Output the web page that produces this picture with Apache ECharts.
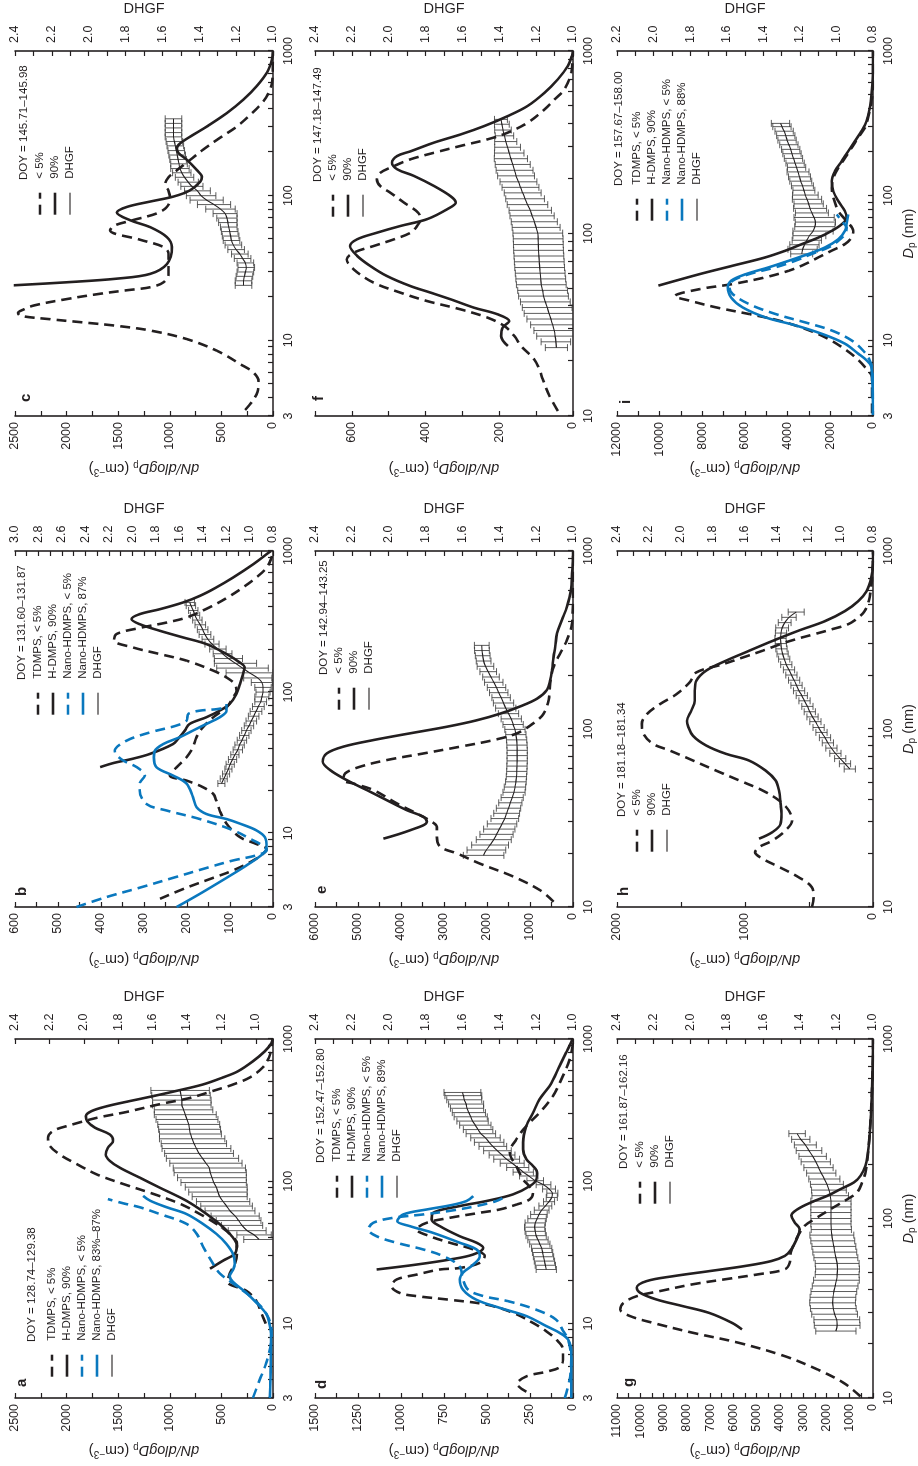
<!DOCTYPE html>
<html>
<head>
<meta charset="utf-8">
<title>Size distributions and DHGF</title>
<script src="https://cdn.jsdelivr.net/npm/echarts@6/dist/echarts.min.js"></script>
<style>
html, body { margin:0; padding:0; background:#fff; width:918px; height:1466px; overflow:hidden; }
#rot { position:absolute; left:0; top:0; width:1466px; height:918px; transform-origin:0 0; transform:translate(0px,1466px) rotate(-90deg); }
#chart { width:1466px; height:918px; }
</style>
</head>
<body>
<div id="rot"><div id="chart"></div></div>
<script>
// ---------------- tick labels ----------------
const dpTicks = [3,4,5,6,7,8,9,10,20,30,40,50,60,70,80,90,100,200,300,400,500,600,700,800,900,1000];
const dpLabels = [3,10,100,1000];
const dnLabels_a = [0,500,1000,1500,2000,2500];
const dnLabels_b = [0,100,200,300,400,500,600];
const dnLabels_c = [0,500,1000,1500,2000,2500];
const dnLabels_d = [0,250,500,750,1000,1250,1500];
const dnLabels_e = [0,1000,2000,3000,4000,5000,6000];
const dnLabels_f = [0,200,400,600];
const dnLabels_g = [0,1000,2000,3000,4000,5000,6000,7000,8000,9000,10000,11000];
const dnLabels_h = [0,1000,2000];
const dnLabels_i = [0,2000,4000,6000,8000,10000,12000];
const gfLabels_10_24 = [1.0,1.2,1.4,1.6,1.8,2.0,2.2,2.4];
const gfLabels_08_30 = [0.8,1.0,1.2,1.4,1.6,1.8,2.0,2.2,2.4,2.6,2.8,3.0];
const gfLabels_08_24 = [0.8,1.0,1.2,1.4,1.6,1.8,2.0,2.2,2.4];
const gfLabels_08_22 = [0.8,1.0,1.2,1.4,1.6,1.8,2.0,2.2];

// ---------------- panel a ----------------
const a_tdmps = [[10,70],[11.7,110],[14.6,165],[17,260],[19.7,440],[22.5,420],[26.3,370],[30.9,350],[36.4,350],[42.8,420],[50.3,550],[59,710],[69.5,900],[81.6,1160],[95.7,1450],[112,1710],[132,1900],[154,2065],[181,2170],[202,2180],[226,2130],[250,1950],[279,1710],[307,1420],[348,1100],[386,800],[432,580],[478,390],[537,225],[630,100],[738,40],[864,15],[1000,5]];
const a_hdmps = [[24.3,610],[27.8,480],[30.9,370],[35.3,350],[40.4,390],[47.5,480],[59,645],[73,840],[90.4,1100],[106,1290],[124,1480],[139,1580],[154,1620],[172,1600],[192,1550],[213,1580],[238,1725],[264,1800],[287,1813],[311,1760],[337,1610],[366,1390],[397,1160],[432,935],[479,680],[537,485],[593,340],[697,195],[819,80],[934,15],[1000,3]];
const a_nanoLo = [[3,195],[4,130],[5.3,65],[6.9,25],[8.5,15],[10,25],[11.7,65],[13.5,130],[16,240],[19.1,385],[22.5,515],[26.3,580],[34.4,675],[42.8,740],[50.3,840],[59,1100],[65.7,1290],[70,1450],[75,1600]];
const a_nanoHi = [[3,30],[4,25],[5.3,22],[6.9,20],[8.5,20],[10,35],[11.7,65],[14,160],[16.5,260],[19.7,390],[21.6,420],[23.9,387],[26.3,371],[30.9,387],[36.4,452],[42.8,550],[50.3,680],[59,840],[65.7,1030],[73,1190],[79,1258]];
const a_dhgf = [[39,0.98,0.09],[42,1.01,0.10],[45,1.05,0.11],[49,1.08,0.12],[53,1.10,0.13],[57,1.12,0.14],[62,1.15,0.145],[67,1.17,0.15],[72,1.19,0.155],[78,1.21,0.16],[84,1.22,0.17],[91,1.23,0.18],[98,1.245,0.19],[106,1.255,0.20],[115,1.265,0.21],[124,1.27,0.21],[134,1.29,0.21],[145,1.31,0.21],[157,1.33,0.20],[170,1.345,0.20],[184,1.36,0.19],[199,1.37,0.19],[215,1.38,0.18],[232,1.385,0.18],[251,1.39,0.18],[272,1.40,0.18],[294,1.41,0.18],[318,1.42,0.17],[344,1.43,0.17],[372,1.43,0.17],[402,1.435,0.17],[435,1.44,0.17]];

// ---------------- panel b ----------------
const b_tdmps = [[3.43,263],[4.11,201],[4.83,139],[5.45,93],[6.41,46],[7.16,23],[7.76,15],[8.42,40],[9.38,77],[11.7,108],[14.5,124],[17.1,132],[19,139],[21.2,163],[23.6,201],[25.6,240],[29.4,224],[34.5,201],[40.7,186],[47.9,178],[56.4,163],[66.3,139],[78,108],[91.8,93],[102,85],[114,89],[127,108],[142,139],[167,201],[186,263],[207,325],[233,370],[258,364],[285,310],[311,248],[338,201],[389,155],[464,108],[551,70],[648,39],[760,15],[890,4],[1000,0]];
const b_hdmps = [[29.4,402],[31.5,370],[33.5,330],[36.5,286],[42.9,232],[47,220],[53.4,205],[59.5,194],[66.3,155],[73.9,124],[82.4,101],[96.9,85],[114,77],[134,70],[150,66],[162,77],[186,108],[219,155],[244,209],[272,263],[303,310],[329,329],[357,310],[387,263],[432,209],[481,170],[551,132],[648,93],[806,46],[949,15],[1000,5]];
const b_nanoLo = [[3,457],[3.53,387],[4.11,310],[4.83,232],[5.67,155],[6.41,93],[6.97,39],[7.56,15],[8.2,25],[8.9,46],[10.5,93],[12.6,170],[14.5,248],[16.1,294],[20,310],[22.5,310],[25.6,298],[29.4,317],[32.7,348],[36.4,366],[38.3,368],[45.2,341],[51.8,286],[58,224],[62.8,201],[70,197],[73.9,170],[75.6,132],[78,108]];
const b_nanoHi = [[3,224],[3.72,170],[4.83,108],[5.9,62],[7.16,23],[7.94,15],[9.38,19],[10.5,39],[11.7,77],[12.6,108],[13.7,155],[15.3,178],[18,186],[22.5,201],[25.6,232],[29.4,271],[34.5,277],[38.3,275],[42.9,255],[47.9,217],[53.4,186],[59.5,155],[66.3,124],[73.9,108],[82.4,108]];
const b_dhgf = [[22.5,1.24,0.03],[24.3,1.22,0.03],[26.3,1.20,0.03],[28.5,1.18,0.03],[30.8,1.165,0.035],[33.3,1.145,0.035],[36,1.125,0.035],[39,1.10,0.04],[42.2,1.085,0.04],[45.6,1.065,0.04],[49.3,1.045,0.04],[53.4,1.027,0.04],[57.7,1.005,0.04],[62.4,0.985,0.045],[67.5,0.965,0.045],[73,0.945,0.05],[79,0.925,0.05],[85.4,0.905,0.05],[92.4,0.895,0.06],[100,0.885,0.06],[108,0.885,0.07],[117,0.895,0.09],[126,0.93,0.12],[137,1.0,0.20],[148,1.06,0.22],[160,1.12,0.18],[173,1.18,0.12],[187,1.23,0.08],[202,1.27,0.07],[219,1.32,0.06],[237,1.355,0.05],[256,1.38,0.05],[277,1.40,0.045],[300,1.42,0.045],[324,1.445,0.04],[350,1.465,0.04],[379,1.48,0.04],[410,1.50,0.04],[432,1.51,0.04]];

// ---------------- panel c ----------------
const c_lo = [[3.3,270],[3.8,200],[4.4,150],[5.2,140],[6,190],[6.85,317],[8.47,543],[10.2,834],[11.7,1190],[12.6,1513],[13.3,1837],[14,2160],[14.8,2451],[15.5,2470],[16.3,2420],[17.4,2320],[19.3,1997],[21,1674],[22.2,1416],[23.3,1190],[25.2,1061],[28.8,1012],[33.7,1012],[39.7,1012],[44.2,1061],[49.6,1287],[57.6,1578],[62,1540],[67.9,1352],[75.5,1125],[83.6,1028],[95.4,996],[108,1012],[120,1045],[134,1012],[150,931],[177,802],[209,673],[252,511],[301,349],[363,220],[437,107],[514,42],[603,10],[787,2],[1000,0]];
const c_hi = [[24,2520],[25.2,2000],[26.7,1513],[28.8,1190],[33.7,1028],[44.2,980],[51.7,1028],[60.6,1190],[67.6,1384],[76.5,1513],[83.6,1416],[91.1,1190],[98.6,964],[109,802],[125,705],[135,689],[150,737],[177,834],[197,915],[213,931],[230,899],[256,802],[301,640],[373,446],[463,285],[575,155],[712,58],[876,10],[1000,0]];
const c_dhgf = [[24,1.16,0.045],[25.8,1.16,0.045],[27.7,1.155,0.045],[29.7,1.15,0.045],[31.9,1.145,0.045],[34.3,1.15,0.045],[36.8,1.165,0.045],[39.5,1.18,0.045],[42.4,1.20,0.045],[45.6,1.215,0.045],[49,1.225,0.045],[52.6,1.23,0.045],[56.5,1.235,0.045],[60.7,1.24,0.045],[65.2,1.245,0.05],[70,1.25,0.055],[75.2,1.26,0.065],[80.8,1.285,0.08],[86.8,1.32,0.09],[93.2,1.36,0.09],[100,1.39,0.08],[108,1.41,0.07],[116,1.44,0.06],[124,1.46,0.055],[134,1.48,0.05],[144,1.495,0.05],[154,1.505,0.05],[166,1.51,0.045],[178,1.515,0.045],[191,1.52,0.045],[205,1.525,0.045],[221,1.53,0.045],[237,1.535,0.045],[255,1.54,0.045],[273,1.54,0.045],[294,1.54,0.045],[316,1.54,0.045],[340,1.54,0.045]];

// ---------------- panel d ----------------
const d_tdmps = [[3.32,271],[3.76,325],[4.26,271],[4.59,155],[4.94,77],[5.59,58],[6.57,58],[7.72,97],[8.83,155],[10.1,232],[11.9,348],[13.6,503],[14.7,716],[15.6,909],[16.4,1006],[18.3,1055],[20.4,1026],[22.1,909],[24,774],[24.6,658],[26.7,542],[29.8,513],[33.2,580],[37,716],[41.1,832],[45.9,909],[51.1,851],[55.4,716],[60.1,542],[63.4,426],[68.6,329],[74.6,252],[83.5,232],[92.6,255],[103,290],[128,330],[159,368],[197,330],[245,271],[304,194],[399,116],[552,58],[724,19],[898,3],[1000,0]];
const d_hdmps = [[24,1142],[26,909],[28.2,716],[30.6,580],[34.1,522],[37,560],[41.1,658],[48.4,774],[53.9,822],[60.1,813],[67,658],[72.7,503],[81,348],[92.6,251],[103,213],[115,209],[128,232],[143,271],[168,290],[188,290],[245,271],[304,232],[378,194],[470,135],[650,77],[807,39],[949,10],[1000,3]];
const d_nanoLo = [[3,48],[4.05,19],[5.59,10],[7.72,29],[9,60],[10.7,100],[12.6,220],[14.4,380],[15.6,520],[17.3,610],[20.4,640],[25.3,660],[29.8,755],[33.2,871],[37,1026],[41.1,1142],[45.9,1190],[51.1,1161],[55.4,1045],[58.5,871],[62,716],[67,561],[72.7,445],[77.5,397]];
const d_nanoHi = [[3,10],[6.2,10],[7.72,29],[8.6,77],[9.6,155],[11.3,271],[12.9,426],[14.7,561],[17.3,639],[20.4,658],[22.8,639],[26,580],[29.8,542],[33.2,561],[37,658],[43.4,813],[48.4,948],[52.5,1022],[58.5,987],[63.4,851],[67.7,716],[72.7,619],[78.7,580]];
const d_dhgf = [[24,1.145,0.055],[25.7,1.15,0.055],[27.5,1.155,0.055],[29.5,1.16,0.055],[31.6,1.165,0.055],[33.8,1.17,0.055],[36.2,1.18,0.055],[38.8,1.19,0.055],[41.5,1.20,0.055],[44.5,1.205,0.055],[47.6,1.208,0.055],[51,1.205,0.055],[54.6,1.195,0.05],[58.5,1.185,0.045],[62.7,1.17,0.04],[67.1,1.15,0.035],[71.9,1.13,0.03],[77,1.115,0.03],[82.5,1.112,0.03],[88.3,1.13,0.035],[94.6,1.16,0.04],[101,1.205,0.045],[109,1.24,0.05],[116,1.27,0.055],[125,1.30,0.06],[134,1.33,0.065],[143,1.36,0.07],[153,1.385,0.07],[164,1.41,0.075],[176,1.435,0.075],[188,1.455,0.08],[202,1.475,0.08],[216,1.50,0.08],[231,1.515,0.08],[248,1.53,0.085],[265,1.545,0.085],[284,1.555,0.09],[304,1.565,0.09],[326,1.575,0.09],[349,1.58,0.095],[374,1.59,0.095],[400,1.595,0.1],[421,1.60,0.1]];

// ---------------- panel e ----------------
const e_lo = [[10.7,450],[12.4,760],[14.8,1381],[17.5,2157],[20,2700],[21.8,3088],[24.8,3166],[28.2,3166],[30.1,3282],[33.5,3632],[38.2,4097],[45.4,4640],[49.4,5106],[51.6,5339],[56.3,5300],[61.4,4951],[66.9,4330],[72.9,3476],[79.6,2623],[86.7,1847],[94.6,1304],[108,916],[122,683],[146,566],[181,528],[224,450],[267,295],[317,140],[393,23],[606,0],[1000,0]];
const e_hi = [[24.2,4408],[27,3787],[30.1,3399],[32.1,3476],[35,3865],[39.8,4330],[45.4,4796],[51.6,5261],[58.8,5649],[65.5,5820],[72.9,5727],[79.6,5339],[86.7,4640],[94.6,3787],[103,2933],[112,2235],[122,1692],[134,1226],[148,838],[166,605],[189,528],[215,489],[255,450],[291,411],[345,372],[411,256],[488,140],[606,47],[752,23],[933,0],[1000,0]];
const e_dhgf = [[19.5,1.485,0.11],[20.9,1.47,0.105],[22.3,1.45,0.10],[23.9,1.43,0.095],[25.6,1.415,0.09],[27.4,1.40,0.085],[29.3,1.385,0.08],[31.4,1.37,0.075],[33.6,1.36,0.07],[35.9,1.35,0.066],[38.5,1.34,0.063],[41.2,1.33,0.06],[44.1,1.32,0.06],[47.2,1.315,0.058],[50.5,1.31,0.056],[54,1.307,0.055],[57.8,1.305,0.055],[61.9,1.304,0.055],[66.2,1.303,0.055],[70.9,1.303,0.055],[75.9,1.303,0.055],[81.2,1.304,0.055],[86.9,1.306,0.055],[93,1.31,0.055],[99.5,1.315,0.055],[106,1.325,0.055],[114,1.335,0.055],[122,1.35,0.055],[131,1.365,0.055],[140,1.377,0.055],[150,1.39,0.05],[160,1.403,0.05],[171,1.415,0.05],[183,1.43,0.05],[196,1.445,0.045],[210,1.46,0.045],[225,1.475,0.045],[241,1.485,0.04],[258,1.49,0.04],[276,1.494,0.04],[295,1.495,0.04]];

// ---------------- panel f ----------------
const f_lo = [[10.65,41],[12.9,64],[15.9,82],[18,91],[20.4,105],[24.2,141],[27.4,159],[31.1,186],[34.6,232],[38.4,305],[42.6,395],[47.4,468],[53.8,541],[63.6,595],[72.2,614],[78.5,595],[85.4,541],[92.9,486],[101,441],[110,423],[120,414],[130,420],[148,459],[167,495],[182,523],[198,532],[215,523],[234,486],[255,441],[277,377],[302,305],[328,232],[357,177],[405,123],[479,77],[543,50],[617,23],[761,5],[1000,0]];
const f_hi = [[24.2,177],[27.4,195],[30.5,191],[33.1,173],[36.1,205],[39.2,268],[43.6,332],[47.4,386],[51.5,441],[58.5,505],[66.4,550],[75.5,586],[85.4,605],[92.9,586],[101,532],[110,468],[120,395],[136,341],[148,318],[160,332],[182,377],[207,432],[225,477],[244,491],[266,477],[282,441],[315,377],[349,305],[388,241],[440,177],[500,123],[591,77],[700,41],[828,14],[939,3],[1000,0]];
const f_dhgf = [[23.7,1.09,0.06],[25.5,1.093,0.08],[27.4,1.097,0.10],[29.4,1.102,0.11],[31.6,1.11,0.12],[34,1.12,0.13],[36.5,1.13,0.135],[39.3,1.14,0.135],[42.2,1.15,0.135],[45.4,1.16,0.135],[48.8,1.165,0.135],[52.4,1.172,0.135],[56.4,1.175,0.135],[60.6,1.178,0.135],[65.1,1.181,0.135],[70,1.183,0.135],[75.3,1.185,0.135],[80.9,1.187,0.135],[87,1.188,0.135],[93.5,1.189,0.135],[100.5,1.191,0.135],[108,1.20,0.13],[116,1.21,0.125],[125,1.222,0.12],[134,1.232,0.115],[144,1.247,0.11],[155,1.26,0.105],[167,1.273,0.10],[179,1.285,0.10],[192,1.296,0.10],[207,1.309,0.10],[222,1.317,0.10],[239,1.327,0.095],[257,1.337,0.09],[276,1.346,0.08],[297,1.355,0.07],[319,1.365,0.06],[343,1.372,0.05],[369,1.38,0.045],[397,1.386,0.04],[422,1.391,0.035]];

// ---------------- panel g ----------------
const g_lo = [[10.2,537],[12.1,1244],[14.4,2376],[17.1,3790],[20.3,5769],[23.1,7749],[26.2,9446],[28.6,10436],[31.1,10860],[33.9,10718],[36.9,10153],[39.4,9163],[43,7749],[45.9,6335],[48.9,4921],[52.1,3790],[56.8,3577],[64.6,3535],[73.4,3365],[80,3224],[91,2941],[99.1,2517],[113,1810],[128,1103],[140,679],[159,467],[180,325],[254,184],[391,85],[597,28],[914,0],[1000,0]];
const g_hi = [[24.1,5628],[26.2,6052],[29.8,7042],[32.5,8173],[35.4,9305],[38.6,10012],[41.2,10153],[44.8,9729],[47.7,8597],[50.9,7042],[54.4,5486],[58,4355],[61.9,3790],[67.4,3507],[80,3224],[87.2,3153],[95.1,3365],[104,3507],[113,3224],[123,2658],[134,1951],[146,1386],[159,820],[173,537],[197,325],[254,184],[391,85],[597,28],[914,0],[1000,0]];
const g_dhgf = [[23.6,1.203,0.11],[25.4,1.196,0.125],[27.3,1.198,0.125],[29.3,1.21,0.125],[31.5,1.217,0.125],[33.9,1.221,0.125],[36.4,1.219,0.125],[39.2,1.214,0.125],[42.1,1.207,0.125],[45.3,1.20,0.125],[48.7,1.196,0.12],[52.3,1.194,0.12],[56.2,1.196,0.12],[60.5,1.203,0.12],[65,1.209,0.12],[69.9,1.214,0.12],[75.1,1.22,0.12],[80.8,1.225,0.12],[86.8,1.228,0.11],[93.3,1.23,0.11],[100,1.23,0.11],[108,1.23,0.11],[116,1.23,0.11],[125,1.23,0.11],[134,1.234,0.10],[144,1.241,0.095],[155,1.252,0.09],[166,1.266,0.085],[179,1.283,0.08],[192,1.298,0.08],[207,1.313,0.08],[222,1.33,0.075],[239,1.35,0.07],[257,1.37,0.06],[276,1.395,0.05],[297,1.415,0.045]];

// ---------------- panel h ----------------
const h_lo = [[10,477],[11.4,464],[12.9,477],[14.7,581],[16.8,735],[18.7,864],[20.3,921],[21.7,890],[23.6,787],[26.9,684],[30.6,632],[34.9,658],[39.7,735],[45.2,864],[51.4,1045],[58.4,1226],[66.5,1406],[75.7,1587],[82.3,1716],[93.8,1793],[107,1806],[121,1767],[138,1664],[157,1535],[183,1432],[208,1380],[231,1174],[252,1019],[275,864],[300,722],[319,606],[342,452],[363,323],[388,194],[422,116],[460,65],[522,34],[649,13],[850,2],[1000,0]];
const h_hi = [[24.2,890],[26.3,787],[29.3,722],[33.3,715],[37.9,722],[45.2,735],[51.4,761],[58.4,839],[66.5,968],[72.5,1148],[80.8,1303],[91.6,1406],[104,1445],[111,1453],[127,1419],[144,1393],[164,1393],[187,1380],[213,1303],[242,1148],[275,968],[312,787],[357,581],[404,374],[460,219],[522,116],[592,52],[710,13],[843,0],[1000,0]];
const h_dhgf = [[59.6,0.945,0.035],[63.8,0.975,0.035],[68.2,1.005,0.035],[73,1.035,0.035],[78.1,1.06,0.035],[83.6,1.082,0.035],[89.4,1.10,0.035],[95.7,1.122,0.035],[102,1.14,0.035],[110,1.16,0.035],[117,1.178,0.035],[125,1.195,0.035],[134,1.21,0.035],[144,1.228,0.035],[154,1.245,0.035],[164,1.262,0.035],[176,1.278,0.035],[188,1.293,0.035],[201,1.31,0.035],[215,1.325,0.035],[230,1.342,0.035],[247,1.355,0.035],[264,1.365,0.035],[282,1.372,0.035],[302,1.376,0.035],[323,1.378,0.035],[346,1.375,0.035],[370,1.368,0.04],[396,1.352,0.04],[424,1.325,0.045],[454,1.28,0.05]];

// ---------------- panel i ----------------
const i_tdmps = [[3.13,40],[5.5,40],[6.56,387],[7.7,851],[9,1471],[10.5,2245],[12,3173],[13.7,4412],[15.2,5805],[16.9,7353],[18.8,8591],[20.2,9288],[22.6,8127],[24.5,6579],[27.3,5031],[30.3,3947],[33.7,3173],[37.5,2554],[41.7,1935],[46.3,1316],[51.4,1006],[57.1,929],[66.8,1238],[78.3,1625],[96.6,1858],[113,1935],[133,1858],[156,1625],[182,1316],[214,1006],[251,697],[294,387],[344,232],[448,77],[583,0],[1000,0]];
const i_hdmps = [[23.9,10062],[28.7,8127],[32.8,6579],[37.5,5031],[41.7,4102],[46.3,3328],[51.4,2554],[57.1,1935],[63.4,1471],[70.4,1238],[78.3,1316],[91.6,1625],[107,1858],[126,1935],[148,1780],[173,1471],[203,1161],[238,851],[279,542],[326,310],[403,155],[553,46],[760,0],[1000,0]];
const i_nanoLo = [[3.05,0],[6.2,31],[7.3,155],[8.5,464],[10,1006],[11.7,1935],[13.3,3173],[15.2,4567],[17.8,5805],[20.9,6579],[23.2,6734],[25.8,6579],[28.7,5805],[32,4567],[35.5,3638],[39.6,2864],[43.9,2090],[48.8,1625],[54.2,1316],[60.2,1238],[66.8,1471],[74.2,1703]];
const i_nanoHi = [[3.05,0],[6.56,77],[7.3,310],[8.1,697],[9.49,1316],[11.1,2399],[12.7,3638],[14.4,5031],[16.9,6115],[19.8,6656],[23.2,6811],[25.8,6656],[28.7,5960],[32,4876],[35.5,3947],[39.6,3019],[43.9,2245],[50,1625],[57.1,1316],[63.4,1238],[74.2,1161]];
const i_dhgf = [[39.6,1.19,0.06],[42.6,1.185,0.08],[45.8,1.175,0.08],[49.2,1.162,0.08],[52.9,1.148,0.09],[56.9,1.128,0.11],[61.1,1.118,0.11],[65.7,1.115,0.11],[70.7,1.122,0.11],[76,1.134,0.09],[81.7,1.144,0.09],[87.8,1.152,0.08],[94.4,1.161,0.08],[101,1.17,0.07],[109,1.178,0.06],[117,1.186,0.06],[126,1.195,0.06],[135,1.202,0.06],[146,1.21,0.06],[157,1.218,0.05],[168,1.226,0.05],[181,1.235,0.05],[195,1.243,0.05],[209,1.25,0.05],[225,1.26,0.05],[242,1.27,0.05],[260,1.277,0.05],[279,1.286,0.05],[300,1.298,0.05],[316,1.306,0.05]];

// ---------------- texts ----------------
const LEG4 = ['TDMPS, < 5%','H-DMPS, 90%','Nano-HDMPS, < 5%'];
const LEG2 = ['< 5%','90%','DHGF'];

// ---------------- styles / layout ----------------
const INK = '#231f20', BLUE = '#0a78be';
const FONT = "'Liberation Sans', Arial, Helvetica, sans-serif";
const LS = {
  kd:{color:INK, width:2.6, type:[10,6]},
  ks:{color:INK, width:2.6, type:'solid'},
  bd:{color:BLUE, width:2.6, type:[10,6]},
  bs:{color:BLUE, width:2.6, type:'solid'}
};
const P = {
  a:{grid:[68,15,359,258], dpMin:3, dnMax:2500, dnMinor:250, dnLabels:dnLabels_a, gfMin:0.9, gfMax:2.4, gfTick:0.2, gfLabels:gfLabels_10_24,
     lines:[['TDMPS, < 5%',a_tdmps,'kd'],['H-DMPS, 90%',a_hdmps,'ks'],['Nano-HDMPS, < 5%',a_nanoLo,'bd'],['Nano-HDMPS, 83%–87%',a_nanoHi,'bs']], dhgf:a_dhgf,
     legend:LEG4.concat(['Nano-HDMPS, 83%–87%','DHGF']), doy:'DOY = 128.74–129.38', legX:88, doyY:33, legY:52, letter:[83,23], bottom:false},
  b:{grid:[559,15,356,258], dpMin:3, dnMax:600, dnMinor:50, dnLabels:dnLabels_b, gfMin:0.8, gfMax:3.0, gfTick:0.1, gfLabels:gfLabels_08_30,
     lines:[['TDMPS, < 5%',b_tdmps,'kd'],['H-DMPS, 90%',b_hdmps,'ks'],['Nano-HDMPS, < 5%',b_nanoLo,'bd'],['Nano-HDMPS, 87%',b_nanoHi,'bs']], dhgf:b_dhgf,
     legend:LEG4.concat(['Nano-HDMPS, 87%','DHGF']), doy:'DOY = 131.60–131.87', legX:750, doyY:23, legY:38, letter:[574,23], bottom:false},
  c:{grid:[1050,15,365,258], dpMin:3, dnMax:2500, dnMinor:250, dnLabels:dnLabels_c, gfMin:1.0, gfMax:2.4, gfTick:0.1, gfLabels:gfLabels_10_24,
     lines:[['< 5%',c_lo,'kd'],['90%',c_hi,'ks']], dhgf:c_dhgf,
     legend:LEG2, doy:'DOY = 145.71–145.98', legX:1250, doyY:25, legY:40, letter:[1068,27], bottom:false},
  d:{grid:[68,315,359,258], dpMin:3, dnMax:1500, dnMinor:125, dnLabels:dnLabels_d, gfMin:1.0, gfMax:2.4, gfTick:0.1, gfLabels:gfLabels_10_24,
     lines:[['TDMPS, < 5%',d_tdmps,'kd'],['H-DMPS, 90%',d_hdmps,'ks'],['Nano-HDMPS, < 5%',d_nanoLo,'bd'],['Nano-HDMPS, 89%',d_nanoHi,'bs']], dhgf:d_dhgf,
     legend:LEG4.concat(['Nano-HDMPS, 89%','DHGF']), doy:'DOY = 152.47–152.80', legX:267, doyY:322, legY:337, letter:[81,323], bottom:false},
  e:{grid:[559,315,356,258], dpMin:10, dnMax:6000, dnMinor:500, dnLabels:dnLabels_e, gfMin:1.0, gfMax:2.4, gfTick:0.1, gfLabels:gfLabels_10_24,
     lines:[['< 5%',e_lo,'kd'],['90%',e_hi,'ks']], dhgf:e_dhgf,
     legend:LEG2, doy:'DOY = 142.94–143.25', legX:755, doyY:325, legY:339, letter:[576,323], bottom:false},
  f:{grid:[1050,315,365,258], dpMin:10, dnMax:700, dnMinor:100, dnLabels:dnLabels_f, gfMin:1.0, gfMax:2.4, gfTick:0.1, gfLabels:gfLabels_10_24,
     lines:[['< 5%',f_lo,'kd'],['90%',f_hi,'ks']], dhgf:f_dhgf,
     legend:LEG2, doy:'DOY = 147.18–147.49', legX:1248, doyY:319, legY:333, letter:[1069,320], bottom:false},
  g:{grid:[68,617,359,259], dpMin:10, dnMax:11000, dnMinor:500, dnLabels:dnLabels_g, gfMin:1.0, gfMax:2.4, gfTick:0.1, gfLabels:gfLabels_10_24,
     lines:[['< 5%',g_lo,'kd'],['90%',g_hi,'ks']], dhgf:g_dhgf,
     legend:LEG2, doy:'DOY = 161.87–162.16', legX:261, doyY:625, legY:640, letter:[83,630], bottom:true},
  h:{grid:[559,617,356,259], dpMin:10, dnMax:2000, dnMinor:500, dnLabels:dnLabels_h, gfMin:0.8, gfMax:2.4, gfTick:0.1, gfLabels:gfLabels_08_24,
     lines:[['< 5%',h_lo,'kd'],['90%',h_hi,'ks']], dhgf:h_dhgf,
     legend:LEG2, doy:'DOY = 181.18–181.34', legX:613, doyY:623, legY:637, letter:[574,625], bottom:true},
  i:{grid:[1050,617,365,259], dpMin:3, dnMax:12000, dnMinor:1000, dnLabels:dnLabels_i, gfMin:0.8, gfMax:2.2, gfTick:0.1, gfLabels:gfLabels_08_22,
     lines:[['TDMPS, < 5%',i_tdmps,'kd'],['H-DMPS, 90%',i_hdmps,'ks'],['Nano-HDMPS, < 5%',i_nanoLo,'bd'],['Nano-HDMPS, 88%',i_nanoHi,'bs']], dhgf:i_dhgf,
     legend:LEG4.concat(['Nano-HDMPS, 88%','DHGF']), doy:'DOY = 157.67–158.00', legX:1244, doyY:620, legY:637, letter:[1066,627], bottom:true}
};

function stepRange(a, b, s) {
  const out = []; const n = Math.round((b - a) / s);
  for (let k = 0; k <= n; k++) out.push(Math.round((a + k * s) * 1000) / 1000);
  return out;
}

const NAME_STYLE = {
  fontSize:14.5, color:INK, fontFamily:FONT,
  rich:{
    i:{fontStyle:'italic', fontSize:14.5, fontFamily:FONT, color:INK},
    n:{fontSize:14.5, fontFamily:FONT, color:INK},
    sub:{fontSize:10, fontFamily:FONT, color:INK, padding:[7,0,0,0]},
    sup:{fontSize:10, fontFamily:FONT, color:INK, padding:[0,0,7,0]}
  }
};
const DN_NAME = '{i|dN/dlogD}{sub|p}{n| (cm}{sup|−3}{n|)}';
const DP_NAME = '{i|D}{sub|p}{n| (nm)}';
const TICK = {color:INK, width:1.2};
const AXLINE = {color:INK, width:1.6};
const LBL = {fontSize:12.5, color:INK, fontFamily:FONT};

// legend icon: the series line only, no marker
function legendItems(names) {
  return names.map(n => ({name:n, itemStyle:{opacity:0, color:'rgba(0,0,0,0)', borderWidth:0}}));
}

const option = {animation:false, backgroundColor:'#ffffff', textStyle:{fontFamily:FONT, color:INK},
  title:[], legend:[], grid:[], xAxis:[], yAxis:[], series:[]};

['a','b','c','d','e','f','g','h','i'].forEach((id, k) => {
  const p = P[id];
  option.grid.push({left:p.grid[0], top:p.grid[1], width:p.grid[2], height:p.grid[3]});
  // data x axis (log scale)
  option.xAxis.push({type:'log', logBase:10, gridIndex:k, min:p.dpMin, max:1000, position:'bottom',
    axisLine:{show:true, onZero:false, lineStyle:AXLINE}, axisTick:{show:false}, axisLabel:{show:false},
    splitLine:{show:false}, minorTick:{show:false}, minorSplitLine:{show:false}});
  // tick x axis (log10 of diameter)
  const lmin = Math.log10(p.dpMin), lmax = Math.log10(1000);
  option.xAxis.push({type:'value', gridIndex:k, min:lmin, max:lmax, position:'bottom',
    axisLine:{show:false, onZero:false}, splitLine:{show:false},
    axisTick:{show:true, inside:true, length:5, customValues:dpTicks.filter(v => v >= p.dpMin).map(v => Math.log10(v)), lineStyle:TICK},
    axisLabel:Object.assign({show:true, customValues:dpLabels.filter(v => v >= p.dpMin).map(v => Math.log10(v)),
      formatter:v => String(Math.round(Math.pow(10, v))), margin:9}, LBL),
    name:p.bottom ? DP_NAME : '', nameLocation:'middle', nameGap:27, nameTextStyle:NAME_STYLE, nameMoveOverlap:false});
  // dN/dlogDp axis
  option.yAxis.push({type:'value', gridIndex:k, min:0, max:p.dnMax, position:'left',
    axisLine:{show:true, onZero:false, lineStyle:AXLINE},
    axisTick:{show:true, inside:true, length:5, customValues:stepRange(0, p.dnMax, p.dnMinor), lineStyle:TICK},
    axisLabel:Object.assign({customValues:p.dnLabels, formatter:v => String(Math.round(v)), margin:6}, LBL),
    splitLine:{show:false},
    name:DN_NAME, nameLocation:'middle', nameGap:44, nameRotate:90, nameTextStyle:NAME_STYLE, nameMoveOverlap:false});
  // DHGF axis
  const gfTicks = p.gfTick === 0.2 ? p.gfLabels : stepRange(p.gfMin, p.gfMax, 0.1);
  option.yAxis.push({type:'value', gridIndex:k, min:p.gfMin, max:p.gfMax, position:'right',
    axisLine:{show:true, onZero:false, lineStyle:AXLINE},
    axisTick:{show:true, inside:true, length:5, customValues:gfTicks, lineStyle:TICK},
    axisLabel:Object.assign({customValues:p.gfLabels, formatter:v => Number(v).toFixed(1), margin:8}, LBL),
    splitLine:{show:false},
    name:'DHGF', nameLocation:'middle', nameGap:34, nameRotate:-90,
    nameTextStyle:{fontSize:14.5, color:INK, fontFamily:FONT}, nameMoveOverlap:false});

  const xi = 2 * k, yDn = 2 * k, yGf = 2 * k + 1;
  // DHGF error bars
  option.series.push({type:'custom', name:'DHGF range ' + id, xAxisIndex:xi, yAxisIndex:yGf, clip:true, silent:true, z:2,
    data:p.dhgf.map(r => [r[0], r[1] - r[2], r[1] + r[2]]),
    encode:{x:0, y:[1, 2]},
    renderItem:(params, api) => {
      const lo = api.coord([api.value(0), api.value(1)]);
      const hi = api.coord([api.value(0), api.value(2)]);
      const w = 3.5, st = {stroke:'#333333', lineWidth:0.8};
      return {type:'group', children:[
        {type:'line', shape:{x1:lo[0], y1:lo[1], x2:hi[0], y2:hi[1]}, style:st},
        {type:'line', shape:{x1:lo[0] - w, y1:lo[1], x2:lo[0] + w, y2:lo[1]}, style:st},
        {type:'line', shape:{x1:hi[0] - w, y1:hi[1], x2:hi[0] + w, y2:hi[1]}, style:st}
      ]};
    }});
  option.series.push({type:'line', name:'DHGF', xAxisIndex:xi, yAxisIndex:yGf, data:p.dhgf.map(r => [r[0], r[1]]),
    smooth:0.3, symbol:'none', itemStyle:{color:INK}, lineStyle:{color:INK, width:1.1, type:'solid'}, z:3, silent:true});
  // size distributions
  p.lines.forEach(([name, data, st]) => {
    option.series.push({type:'line', name:name, xAxisIndex:xi, yAxisIndex:yDn, data:data,
      smooth:0.35, symbol:'none', itemStyle:{color:LS[st].color}, lineStyle:LS[st], z:4, silent:true});
  });
  // legend, DOY text, panel letter
  option.legend.push({orient:'vertical', left:p.legX, top:p.legY - 6, padding:0, itemWidth:22, itemHeight:12, itemGap:3,
    selectedMode:false, data:legendItems(p.legend), lineStyle:{width:'inherit'},
    itemStyle:{opacity:0, color:'rgba(0,0,0,0)', borderWidth:0},
    textStyle:{fontSize:11.5, color:INK, fontFamily:FONT, padding:[0,0,0,9]}});
  option.title.push({text:p.doy, left:p.legX + 36, top:p.doyY - 7, padding:0,
    textStyle:{fontSize:11.5, fontWeight:'normal', color:INK, fontFamily:FONT}});
  option.title.push({text:id, left:p.letter[0] - 4, top:p.letter[1] - 9, padding:0,
    textStyle:{fontSize:15, fontWeight:'bold', color:INK, fontFamily:FONT}});
});

const chart = echarts.init(document.getElementById('chart'), null, {renderer:'canvas', width:1466, height:918});
chart.setOption(option);
</script>
</body>
</html>
